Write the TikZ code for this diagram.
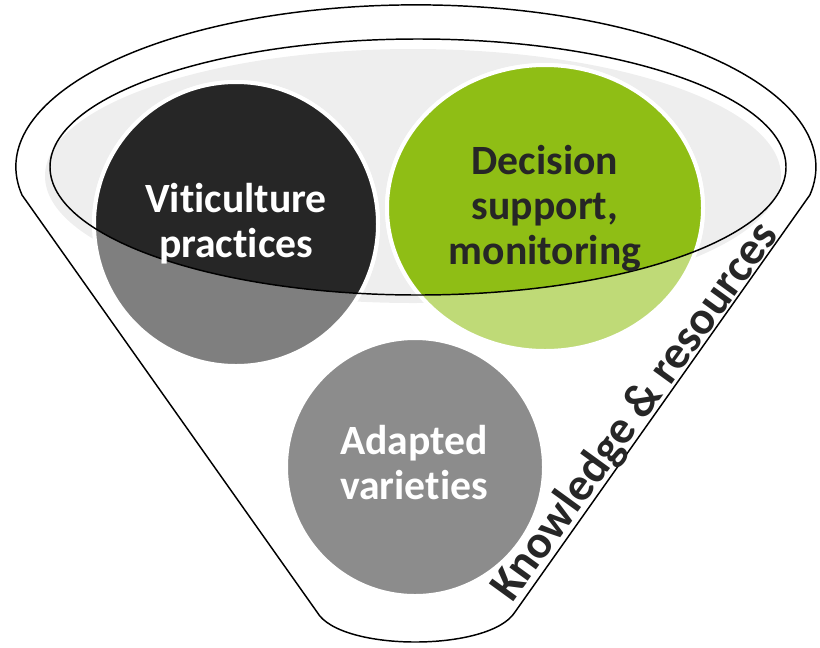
\documentclass[tikz,border=0pt]{standalone}
\usepackage{fontspec}
\setmainfont{Carlito}[RawFeature={-liga;-clig;-calt;-dlig}]
\definecolor{darkdisc}{HTML}{262626}
\definecolor{darkdiscpale}{HTML}{7F7F7F}
\definecolor{greendisc}{HTML}{8FBE15}
\definecolor{greendiscpale}{HTML}{BFDA77}
\definecolor{greydisc}{HTML}{8C8C8C}
\definecolor{rimfill}{HTML}{EEEEEE}
\tikzset{
	disc/.style={draw=white,line width=3pt},
	rim/.style={draw=black,line width=1.1pt},
	lbl/.style={font=\bfseries\fontsize{31.25}{33.75}\selectfont,align=center,inner sep=0}
}

\begin{document}
\begin{tikzpicture}[x=0.75pt,y=-0.75pt]
	\useasboundingbox (0,0) rectangle (820,647);
	\fill[rimfill] (413,176) ellipse[x radius=368,y radius=127];
	\filldraw[disc,fill=darkdiscpale] (236,224) ellipse[x radius=142,y radius=142];
	\filldraw[disc,fill=greendiscpale] (545,208) ellipse[x radius=158,y radius=143];
	\filldraw[disc,fill=greydisc] (415,467) ellipse[x radius=129,y radius=129];
	\begin{scope}
		\clip (418,167) ellipse[x radius=368,y radius=128];
		\filldraw[disc,fill=darkdisc] (236,224) ellipse[x radius=142,y radius=142];
		\filldraw[disc,fill=greendisc] (545,208) ellipse[x radius=158,y radius=143];
	\end{scope}
	\draw[rim] (418,167) ellipse[x radius=368,y radius=128];
	\coordinate (lt) at (22,195);
	\coordinate (rb) at (515,612);
	\coordinate (lb) at (317,612);
	\draw[rim] (lt) arc[start angle=170,end angle=370,x radius=400,y radius=162]
		-- (rb) .. controls (490,652) and (340,652) .. (lb) -- cycle;
	\node[lbl,text=white] (viti) at (236,224) {Vit\kern0pt iculture\\pract\kern0pt ices};
	\node[lbl,text=darkdisc] (decision) at (545,208) {Decision\\support,\\monitoring};
	\node[lbl,text=white] (adapted) at (414,463) {Adapted\\variet\kern0pt ies};
	\node[lbl,text=darkdisc,rotate=54,anchor=base west,font=\bfseries\fontsize{35}{36}\selectfont] (knowledge) at (512,604) {Knowledge \& resources};
\end{tikzpicture}
\end{document}
